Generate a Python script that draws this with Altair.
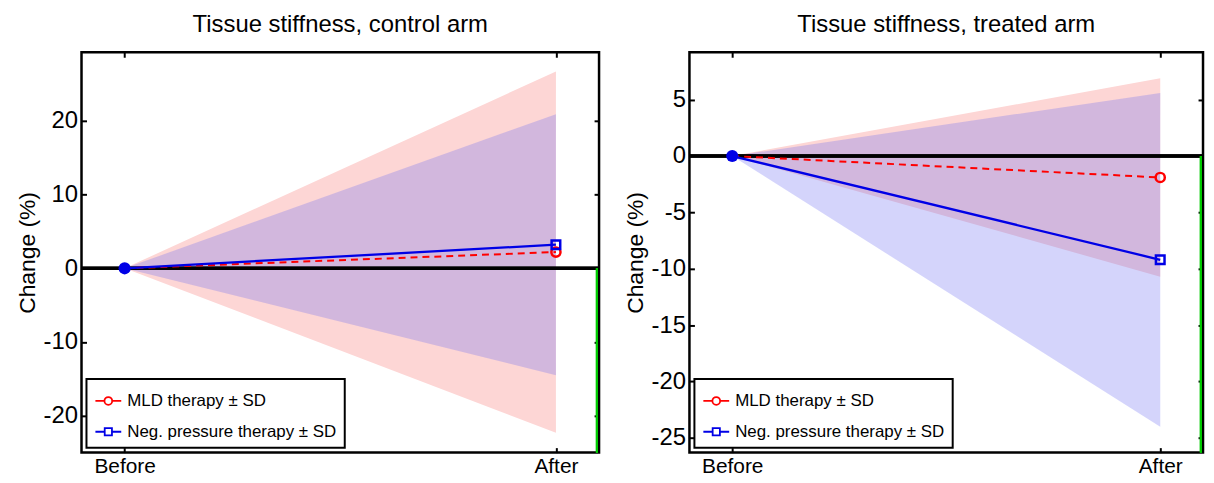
import altair as alt
import pandas as pd

FONT = "Liberation Sans"

# ---- data ----
stages = ["Before", "After"]
stage_pos = [1, 2]
series = ["MLD therapy ± SD", "Neg. pressure therapy ± SD"]

control_mld_mean = [0.0, 2.2]
control_mld_sd = [0.0, 24.5]
control_neg_mean = [0.0, 3.2]
control_neg_sd = [0.0, 17.7]

treated_mld_mean = [0.0, -1.9]
treated_mld_sd = [0.0, 8.8]
treated_neg_mean = [0.0, -9.2]
treated_neg_sd = [0.0, 14.8]

control_yticks = [-20, -10, 0, 10, 20]
treated_yticks = [-25, -20, -15, -10, -5, 0, 5]
control_ydomain = [-25.0, 29.3]
treated_ydomain = [-26.3, 9.2]
xdomain = [0.9, 2.1]

RED = "#ff0000"
BLUE = "#0000e6"
PINK_BAND = "#fdd6d5"
BLUE_BAND = "#7070f2"

legend_paths = [
    "M-1,0H-0.32 M0.32,0H1 M0.3,0A0.3,0.3 0 1,1 -0.3,0A0.3,0.3 0 1,1 0.3,0",
    "M-1,0H-0.28 M0.28,0H1 M-0.28,-0.28H0.28V0.28H-0.28Z",
]


def panel(title, mld_mean, mld_sd, neg_mean, neg_sd, ydomain, yticks, w, h):
    rows = []
    for name, m, s in [(series[0], mld_mean, mld_sd), (series[1], neg_mean, neg_sd)]:
        for st, p, mm, ss in zip(stages, stage_pos, m, s):
            rows.append(dict(series=name, stage=st, pos=p, mean=mm, lo=mm - ss, hi=mm + ss))
    df = pd.DataFrame(rows)

    xs = alt.Scale(domain=xdomain, nice=False, zero=False)
    ys = alt.Scale(domain=ydomain, nice=False, zero=False)

    label_expr = f"datum.value == {stage_pos[0]} ? '{stages[0]}' : '{stages[1]}'"
    x_axis = alt.Axis(values=stage_pos, labelExpr=label_expr, tickSize=5, offset=-5,
                      domain=False, grid=False, labelFontSize=21, labelPadding=3,
                      labelFont=FONT, labelColor="black", tickColor="black", tickWidth=2,
                      title=None, labelFlush=False)
    y_axis = alt.Axis(values=yticks, tickSize=5, offset=-5, domain=False, grid=False,
                      labelExpr="datum.value < 0 ? '-' + abs(datum.value) : '' + datum.value",
                      labelFontSize=24, labelPadding=4, labelFont=FONT, labelColor="black",
                      tickColor="black", tickWidth=2, title="Change (%)", titleFontSize=23,
                      titleFont=FONT, titleFontWeight="normal", titleColor="black",
                      titlePadding=4)
    top_axis = alt.Axis(orient="top", values=stage_pos, labels=False, tickSize=5, offset=-5,
                        domain=False, grid=False, tickColor="black", tickWidth=2, title=None)
    right_axis = alt.Axis(orient="right", values=yticks, labels=False, tickSize=5, offset=-5,
                          domain=False, grid=False, tickColor="black", tickWidth=2, title=None)

    base = alt.Chart(df)

    def X(axis=None):
        return alt.X("pos:Q", scale=xs, axis=axis, title=None)

    def Y(field, axis=None):
        return alt.Y(field, scale=ys, axis=axis, title=None)

    mld = alt.datum.series == series[0]
    neg = alt.datum.series == series[1]

    pink = base.transform_filter(mld).mark_area(color=PINK_BAND, opacity=1).encode(
        x=X(x_axis), y=alt.Y("lo:Q", scale=ys, axis=y_axis), y2="hi:Q")
    blue = base.transform_filter(neg).mark_area(color=BLUE_BAND, opacity=0.3).encode(
        x=X(), y=Y("lo:Q"), y2="hi:Q")

    zero = base.mark_rule(color="black", strokeWidth=3).encode(
        y=alt.YDatum(0, scale=ys, axis=right_axis))

    green = base.mark_rule(color="#00cc00", strokeWidth=2).encode(
        x=alt.XDatum(2.095, scale=xs, axis=top_axis),
        y=alt.YDatum(0, scale=ys, axis=None),
        y2=alt.Y2Datum(ydomain[0]))

    legend_layer = base.mark_point(filled=False, opacity=0, strokeWidth=2).encode(
        x=X(), y=Y("mean:Q"),
        color=alt.Color("series:N", scale=alt.Scale(domain=series, range=[RED, BLUE]),
                        legend=alt.Legend(title=None)),
        shape=alt.Shape("series:N", scale=alt.Scale(domain=series, range=legend_paths),
                        legend=alt.Legend(title=None)),
    )

    line_mld = base.transform_filter(mld).mark_line(
        color=RED, strokeDash=[7, 5], strokeWidth=2).encode(x=X(), y=Y("mean:Q"))
    line_neg = base.transform_filter(neg).mark_line(
        color=BLUE, strokeWidth=2.3).encode(x=X(), y=Y("mean:Q"))

    after_mld = base.transform_filter(mld).transform_filter(alt.datum.pos == stage_pos[1]).mark_point(
        shape="circle", filled=False, color=RED, size=85, strokeWidth=2.5, opacity=1).encode(
        x=X(), y=Y("mean:Q"))
    after_neg = base.transform_filter(neg).transform_filter(alt.datum.pos == stage_pos[1]).mark_point(
        shape="square", filled=False, color=BLUE, size=75, strokeWidth=2.5, opacity=1).encode(
        x=X(), y=Y("mean:Q"))
    before = base.transform_filter(neg).transform_filter(alt.datum.pos == stage_pos[0]).mark_circle(
        color=BLUE, size=150, opacity=1).encode(x=X(), y=Y("mean:Q"))

    return alt.layer(
        pink, blue, zero, green, legend_layer, line_mld, line_neg, after_mld, after_neg, before
    ).resolve_axis(x="independent", y="independent").properties(
        width=w, height=h,
        title=alt.TitleParams(title, fontSize=24, font=FONT, fontWeight="normal",
                              color="black", offset=14, anchor="middle"),
    )


left = panel("Tissue stiffness, control arm", control_mld_mean, control_mld_sd,
             control_neg_mean, control_neg_sd, control_ydomain, control_yticks, 521, 403)
right = panel("Tissue stiffness, treated arm", treated_mld_mean, treated_mld_sd,
              treated_neg_mean, treated_neg_sd, treated_ydomain, treated_yticks, 517, 403)

chart = alt.hconcat(left, right, spacing=21).resolve_scale(
    color="independent", shape="independent"
).resolve_legend(
    color="independent", shape="independent"
).properties(
    padding={"left": 7, "top": 2, "right": 0, "bottom": 0}
).configure_view(
    stroke="black", strokeWidth=2.5
).configure_legend(
    orient="bottom-left", offset=5, strokeColor="black", strokeWidth=2, fillColor="white",
    padding=8, labelFontSize=17, labelFont=FONT, labelColor="black", rowPadding=9,
    symbolSize=676, symbolStrokeWidth=1.8, symbolOpacity=1, labelOffset=5, cornerRadius=0,
    labelLimit=0,
).configure_title(font=FONT)

chart.save("out.html", embed_options={"renderer": "svg", "actions": False})
